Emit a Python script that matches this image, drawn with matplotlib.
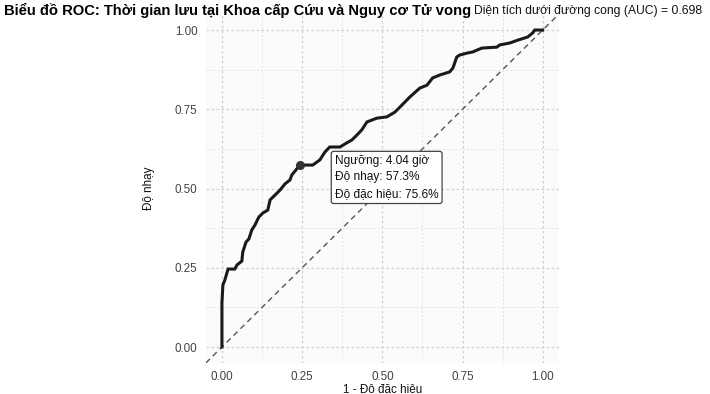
"""ROC curve: emergency department length of stay vs mortality risk."""

import matplotlib
matplotlib.use("Agg")
import matplotlib.pyplot as plt
import numpy as np

plt.rcParams["font.family"] = ["Liberation Sans", "DejaVu Sans"]

# ROC points (1 - specificity, sensitivity)
fpr = [0.0, 0.0, 0.003, 0.009, 0.019, 0.040, 0.047, 0.062, 0.065, 0.075, 0.084,
       0.093, 0.103, 0.115, 0.128, 0.143, 0.150, 0.165, 0.181, 0.196, 0.212,
       0.218, 0.243, 0.283, 0.305, 0.321, 0.336, 0.368, 0.389, 0.405, 0.421,
       0.436, 0.452, 0.483, 0.514, 0.539, 0.555, 0.586, 0.617, 0.639, 0.657,
       0.679, 0.710, 0.720, 0.732, 0.741, 0.763, 0.782, 0.810, 0.857, 0.866,
       0.897, 0.922, 0.953, 0.969, 0.975, 1.0]
tpr = [0.0, 0.139, 0.196, 0.211, 0.246, 0.246, 0.259, 0.271, 0.300, 0.331, 0.341,
       0.369, 0.385, 0.410, 0.423, 0.432, 0.464, 0.479, 0.495, 0.514, 0.527,
       0.543, 0.574, 0.574, 0.590, 0.615, 0.631, 0.631, 0.644, 0.653, 0.669,
       0.685, 0.710, 0.722, 0.726, 0.741, 0.757, 0.789, 0.817, 0.826, 0.849,
       0.858, 0.868, 0.880, 0.915, 0.921, 0.927, 0.931, 0.943, 0.946, 0.953,
       0.959, 0.968, 0.978, 0.991, 1.0, 1.0]

best_threshold = 4.04
best_sens = 0.573
best_spec = 0.756
auc = 0.698

ticks = [0.0, 0.25, 0.5, 0.75, 1.0]
tick_labels = ["0.00", "0.25", "0.50", "0.75", "1.00"]

fig = plt.figure(figsize=(7.1, 3.94), dpi=100)
ax = fig.add_axes([0.290, 0.079, 0.497, 0.885])
ax.set_facecolor("#fbfbfb")

ax.set_xlim(-0.05, 1.05)
ax.set_ylim(-0.05, 1.05)

# grid, ggplot-like with major and minor lines
ax.set_xticks(ticks)
ax.set_yticks(ticks)
ax.set_xticks([0.125, 0.375, 0.625, 0.875], minor=True)
ax.set_yticks([0.125, 0.375, 0.625, 0.875], minor=True)
ax.grid(True, which="major", color="#d0d0d0", linestyle=(0, (2, 2)), linewidth=0.9)
ax.grid(True, which="minor", color="#e2e2e2", linestyle=(0, (2, 2)), linewidth=0.7)
ax.set_axisbelow(True)

# chance line across the whole panel
ax.axline((0, 0), (1, 1), color="#555555", linestyle=(0, (4, 3)), linewidth=1.0)

ax.plot(fpr, tpr, color="#1a1a1a", linewidth=2.2, solid_joinstyle="miter")

bx = 1 - best_spec
ax.plot([bx], [best_sens], "o", color="#333333", markersize=5.5)
ax.text(bx + 0.108, best_sens + 0.033,
        f"Ngưỡng: {best_threshold:.2f} giờ\nĐộ nhạy: {best_sens * 100:.1f}%\n"
        f"Độ đặc hiệu: {best_spec * 100:.1f}%",
        fontsize=8.6, color="#111111", va="top", ha="left", linespacing=1.5,
        bbox=dict(boxstyle="round,pad=0.3,rounding_size=0.2", fc="white",
                  ec="#444444", lw=0.9))

ax.set_xticklabels(tick_labels)
ax.set_yticklabels(tick_labels)
ax.tick_params(which="both", length=0, labelsize=8.4, labelcolor="#444444", pad=6)
for s in ax.spines.values():
    s.set_visible(False)

ax.set_xlabel("1 - Độ đặc hiệu", fontsize=8.4, color="#111111", labelpad=0)
ax.set_ylabel("Độ nhạy", fontsize=8.4, color="#111111", labelpad=14)

title = fig.text(4 / 710, 1 - 10 / 394,
                 "Biểu đồ ROC: Thời gian lưu tại Khoa cấp Cứu và Nguy cơ Tử vong",
                 fontsize=10.6, fontweight="bold", va="center", ha="left")
fig.canvas.draw()
bb = title.get_window_extent().transformed(fig.transFigure.inverted())
fig.text(bb.x1 + 3 / 710, 1 - 11 / 394,
         f"Diện tích dưới đường cong (AUC) = {auc:.3f}",
         fontsize=8.7, va="center", ha="left", color="#111111")

fig.savefig("out.png", dpi=100)
